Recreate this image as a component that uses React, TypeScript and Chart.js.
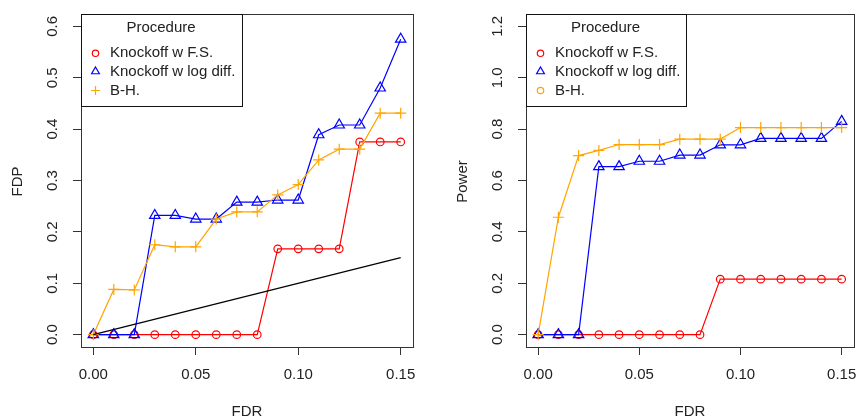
import React, { useEffect, useRef } from 'react';
import { Chart, registerables } from 'chart.js';

Chart.register(...registerables);

// ---- data ----
const FDR_LEVELS = [0, 0.01, 0.02, 0.03, 0.04, 0.05, 0.06, 0.07, 0.08, 0.09, 0.1, 0.11, 0.12, 0.13, 0.14, 0.15];

const FDP_FS = [0, 0, 0, 0, 0, 0, 0, 0, 0, 0.167, 0.167, 0.167, 0.167, 0.375, 0.375, 0.375];
const FDP_LOG = [0, 0, 0, 0.232, 0.232, 0.225, 0.225, 0.258, 0.258, 0.262, 0.262, 0.389, 0.408, 0.408, 0.48, 0.575];
const FDP_BH = [0, 0.088, 0.087, 0.175, 0.171, 0.171, 0.225, 0.239, 0.239, 0.272, 0.292, 0.34, 0.361, 0.361, 0.431, 0.431];

const REF_X = [0, 0.15];
const REF_Y = [0, 0.15];

const POW_FS = [0, 0, 0, 0, 0, 0, 0, 0, 0, 0.216, 0.216, 0.216, 0.216, 0.216, 0.216, 0.216];
const POW_LOG = [0, 0, 0, 0.654, 0.654, 0.675, 0.675, 0.699, 0.699, 0.739, 0.739, 0.764, 0.764, 0.764, 0.764, 0.83];
const POW_BH = [0, 0.457, 0.697, 0.717, 0.74, 0.74, 0.74, 0.761, 0.761, 0.761, 0.806, 0.806, 0.806, 0.806, 0.806, 0.806];

const X_TICKS = [0, 0.05, 0.1, 0.15];
const X_TICK_LABELS = ['0.00', '0.05', '0.10', '0.15'];
const FDP_TICKS = [0, 0.1, 0.2, 0.3, 0.4, 0.5, 0.6];
const FDP_TICK_LABELS = ['0.0', '0.1', '0.2', '0.3', '0.4', '0.5', '0.6'];
const POW_TICKS = [0, 0.2, 0.4, 0.6, 0.8, 1.0, 1.2];
const POW_TICK_LABELS = ['0.0', '0.2', '0.4', '0.6', '0.8', '1.0', '1.2'];

const LEGEND_TITLE = 'Procedure';
const LABEL_FS = 'Knockoff w F.S.';
const LABEL_LOG = 'Knockoff w log diff.';
const LABEL_BH = 'B-H.';

const RED = '#FF0000';
const BLUE = '#0000FF';
const ORANGE = '#FFA500';
const FONT = '15px "Liberation Sans", Arial, sans-serif';
const TEXT = '#222222';
const AXIS = '#333333';

type Series = {
  label: string;
  values: number[];
  color: string;
  style: string;
  radius: number;
  legendStyle: string;
  legendRadius: number;
};

function drawMarker(ctx: CanvasRenderingContext2D, style: string, x: number, y: number, r: number, color: string) {
  ctx.save();
  ctx.strokeStyle = color;
  ctx.lineWidth = 1.2;
  ctx.beginPath();
  if (style === 'circle') {
    ctx.arc(x, y, r, 0, Math.PI * 2);
  } else if (style === 'triangle') {
    for (let i = 0; i < 3; i++) {
      const a = (i * 2 * Math.PI) / 3;
      const px = x + Math.sin(a) * r;
      const py = y - Math.cos(a) * r;
      if (i === 0) ctx.moveTo(px, py);
      else ctx.lineTo(px, py);
    }
    ctx.closePath();
  } else {
    ctx.moveTo(x - r, y);
    ctx.lineTo(x + r, y);
    ctx.moveTo(x, y - r);
    ctx.lineTo(x, y + r);
  }
  ctx.stroke();
  ctx.restore();
}

type PanelProps = {
  left: number;
  width: number;
  padL: number;
  padR: number;
  yLabel: string;
  yMax: number;
  yTicks: number[];
  yTickLabels: string[];
  series: Series[];
  showRef: boolean;
  legendW: number;
};

function Panel(props: PanelProps) {
  const ref = useRef<HTMLCanvasElement | null>(null);
  useEffect(() => {
    const { padL, padR, yLabel, yMax, yTicks, yTickLabels, series, showRef, legendW } = props;
    const xMin = -0.04 * 0.15;
    const xMax = 0.15 * 1.04;
    const yMin = -0.04 * yMax;
    const yTop = yMax * 1.04;

    const datasets: any[] = [];
    if (showRef) {
      datasets.push({
        label: 'ref',
        data: REF_X.map((x, i) => ({ x, y: REF_Y[i] })),
        borderColor: '#000000',
        borderWidth: 1.2,
        pointRadius: 0,
        fill: false,
      });
    }
    series
      .slice()
      .reverse()
      .forEach((s) => {
        datasets.push({
          label: s.label,
          data: FDR_LEVELS.map((x, i) => ({ x, y: s.values[i] })),
          borderColor: s.color,
          borderWidth: 1.2,
          pointStyle: s.style,
          pointRadius: s.radius,
          pointBorderColor: s.color,
          pointBackgroundColor: 'rgba(0,0,0,0)',
          pointBorderWidth: 1.2,
          fill: false,
          tension: 0,
        });
      });

    const plugin = {
      id: 'rbase',
      afterDraw(chart: any) {
        const ctx: CanvasRenderingContext2D = chart.ctx;
        const ca = chart.chartArea;
        const xs = chart.scales.x;
        const ys = chart.scales.y;
        ctx.save();
        // box
        ctx.strokeStyle = AXIS;
        ctx.lineWidth = 1;
        const l = Math.round(ca.left) + 0.5;
        const t = Math.round(ca.top) + 0.5;
        const r = Math.round(ca.right) + 0.5;
        const b = Math.round(ca.bottom) + 0.5;
        ctx.strokeRect(l, t, r - l, b - t);

        ctx.fillStyle = TEXT;
        ctx.font = FONT;
        ctx.textAlign = 'center';
        ctx.textBaseline = 'middle';
        // x tick labels
        X_TICKS.forEach((v, i) => {
          ctx.fillText(X_TICK_LABELS[i], xs.getPixelForValue(v), ca.bottom + 28);
        });
        // y tick labels (rotated)
        yTicks.forEach((v, i) => {
          ctx.save();
          ctx.translate(ca.left - 28.5, ys.getPixelForValue(v));
          ctx.rotate(-Math.PI / 2);
          ctx.fillText(yTickLabels[i], 0, 0);
          ctx.restore();
        });
        // axis titles
        ctx.fillText('FDR', (ca.left + ca.right) / 2, 412);
        ctx.save();
        ctx.translate(ca.left - 63.5, (ca.top + ca.bottom) / 2 + 1);
        ctx.rotate(-Math.PI / 2);
        ctx.fillText(yLabel, 0, 0);
        ctx.restore();

        // legend
        const lx = Math.round(ca.left) + 0.5;
        const ly = Math.round(ca.top) + 0.5;
        const lh = 92;
        ctx.fillStyle = '#FFFFFF';
        ctx.fillRect(lx, ly, legendW, lh);
        ctx.strokeStyle = '#111111';
        ctx.strokeRect(lx, ly, legendW, lh);
        ctx.fillStyle = TEXT;
        ctx.textAlign = 'center';
        ctx.fillText(LEGEND_TITLE, lx + legendW / 2 - 1, ly + 13.5);
        const rows = [38.8, 57, 76];
        series.forEach((s, i) => {
          const yy = ly + rows[i];
          drawMarker(ctx, s.legendStyle, lx + 14, yy, s.legendRadius, s.color);
          ctx.fillStyle = TEXT;
          ctx.textAlign = 'left';
          ctx.fillText(s.label, lx + 28.5, yy);
        });
        ctx.restore();
      },
    };

    const chart = new Chart(ref.current as HTMLCanvasElement, {
      type: 'line',
      data: { datasets },
      plugins: [plugin],
      options: {
        responsive: false,
        animation: false,
        devicePixelRatio: 1,
        layout: { padding: { left: 0, right: padR, top: 14, bottom: 0 } },
        plugins: { legend: { display: false }, tooltip: { enabled: false } },
        scales: {
          x: {
            type: 'linear',
            min: xMin,
            max: xMax,
            afterBuildTicks: (s: any) => {
              s.ticks = X_TICKS.map((v) => ({ value: v }));
            },
            afterFit: (s: any) => {
              s.height = 71;
            },
            ticks: { display: false },
            grid: { drawOnChartArea: false, drawTicks: true, tickLength: 8, color: AXIS, lineWidth: 1 },
            border: { display: true, color: AXIS },
          },
          y: {
            type: 'linear',
            min: yMin,
            max: yTop,
            afterBuildTicks: (s: any) => {
              s.ticks = yTicks.map((v) => ({ value: v }));
            },
            afterFit: (s: any) => {
              s.width = padL;
            },
            ticks: { display: false },
            grid: { drawOnChartArea: false, drawTicks: true, tickLength: 8, color: AXIS, lineWidth: 1 },
            border: { display: true, color: AXIS },
          },
        },
      } as any,
    });
    return () => chart.destroy();
  }, []);
  return (
    <canvas
      ref={ref}
      width={props.width}
      height={418}
      style={{ position: 'absolute', left: props.left, top: 0, width: props.width, height: 418 }}
    />
  );
}

const FDP_SERIES: Series[] = [
  { label: LABEL_FS, values: FDP_FS, color: RED, style: 'circle', radius: 3.8, legendStyle: 'circle', legendRadius: 3.2 },
  { label: LABEL_LOG, values: FDP_LOG, color: BLUE, style: 'triangle', radius: 6, legendStyle: 'triangle', legendRadius: 4.5 },
  { label: LABEL_BH, values: FDP_BH, color: ORANGE, style: 'cross', radius: 5.5, legendStyle: 'cross', legendRadius: 4.5 },
];

const POW_SERIES: Series[] = [
  { label: LABEL_FS, values: POW_FS, color: RED, style: 'circle', radius: 3.8, legendStyle: 'circle', legendRadius: 3.2 },
  { label: LABEL_LOG, values: POW_LOG, color: BLUE, style: 'triangle', radius: 6, legendStyle: 'triangle', legendRadius: 4.5 },
  { label: LABEL_BH, values: POW_BH, color: ORANGE, style: 'cross', radius: 5.5, legendStyle: 'circle', legendRadius: 3.2 },
];

export default function App() {
  return (
    <div style={{ position: 'absolute', left: 0, top: 0, width: 861, height: 418, background: '#FFFFFF', overflow: 'hidden' }}>
      <Panel
        left={0}
        width={431}
        padL={81}
        padR={18}
        yLabel="FDP"
        yMax={0.6}
        yTicks={FDP_TICKS}
        yTickLabels={FDP_TICK_LABELS}
        series={FDP_SERIES}
        showRef={true}
        legendW={161}
      />
      <Panel
        left={431}
        width={430}
        padL={95}
        padR={4}
        yLabel="Power"
        yMax={1.2}
        yTicks={POW_TICKS}
        yTickLabels={POW_TICK_LABELS}
        series={POW_SERIES}
        showRef={false}
        legendW={160}
      />
    </div>
  );
}
